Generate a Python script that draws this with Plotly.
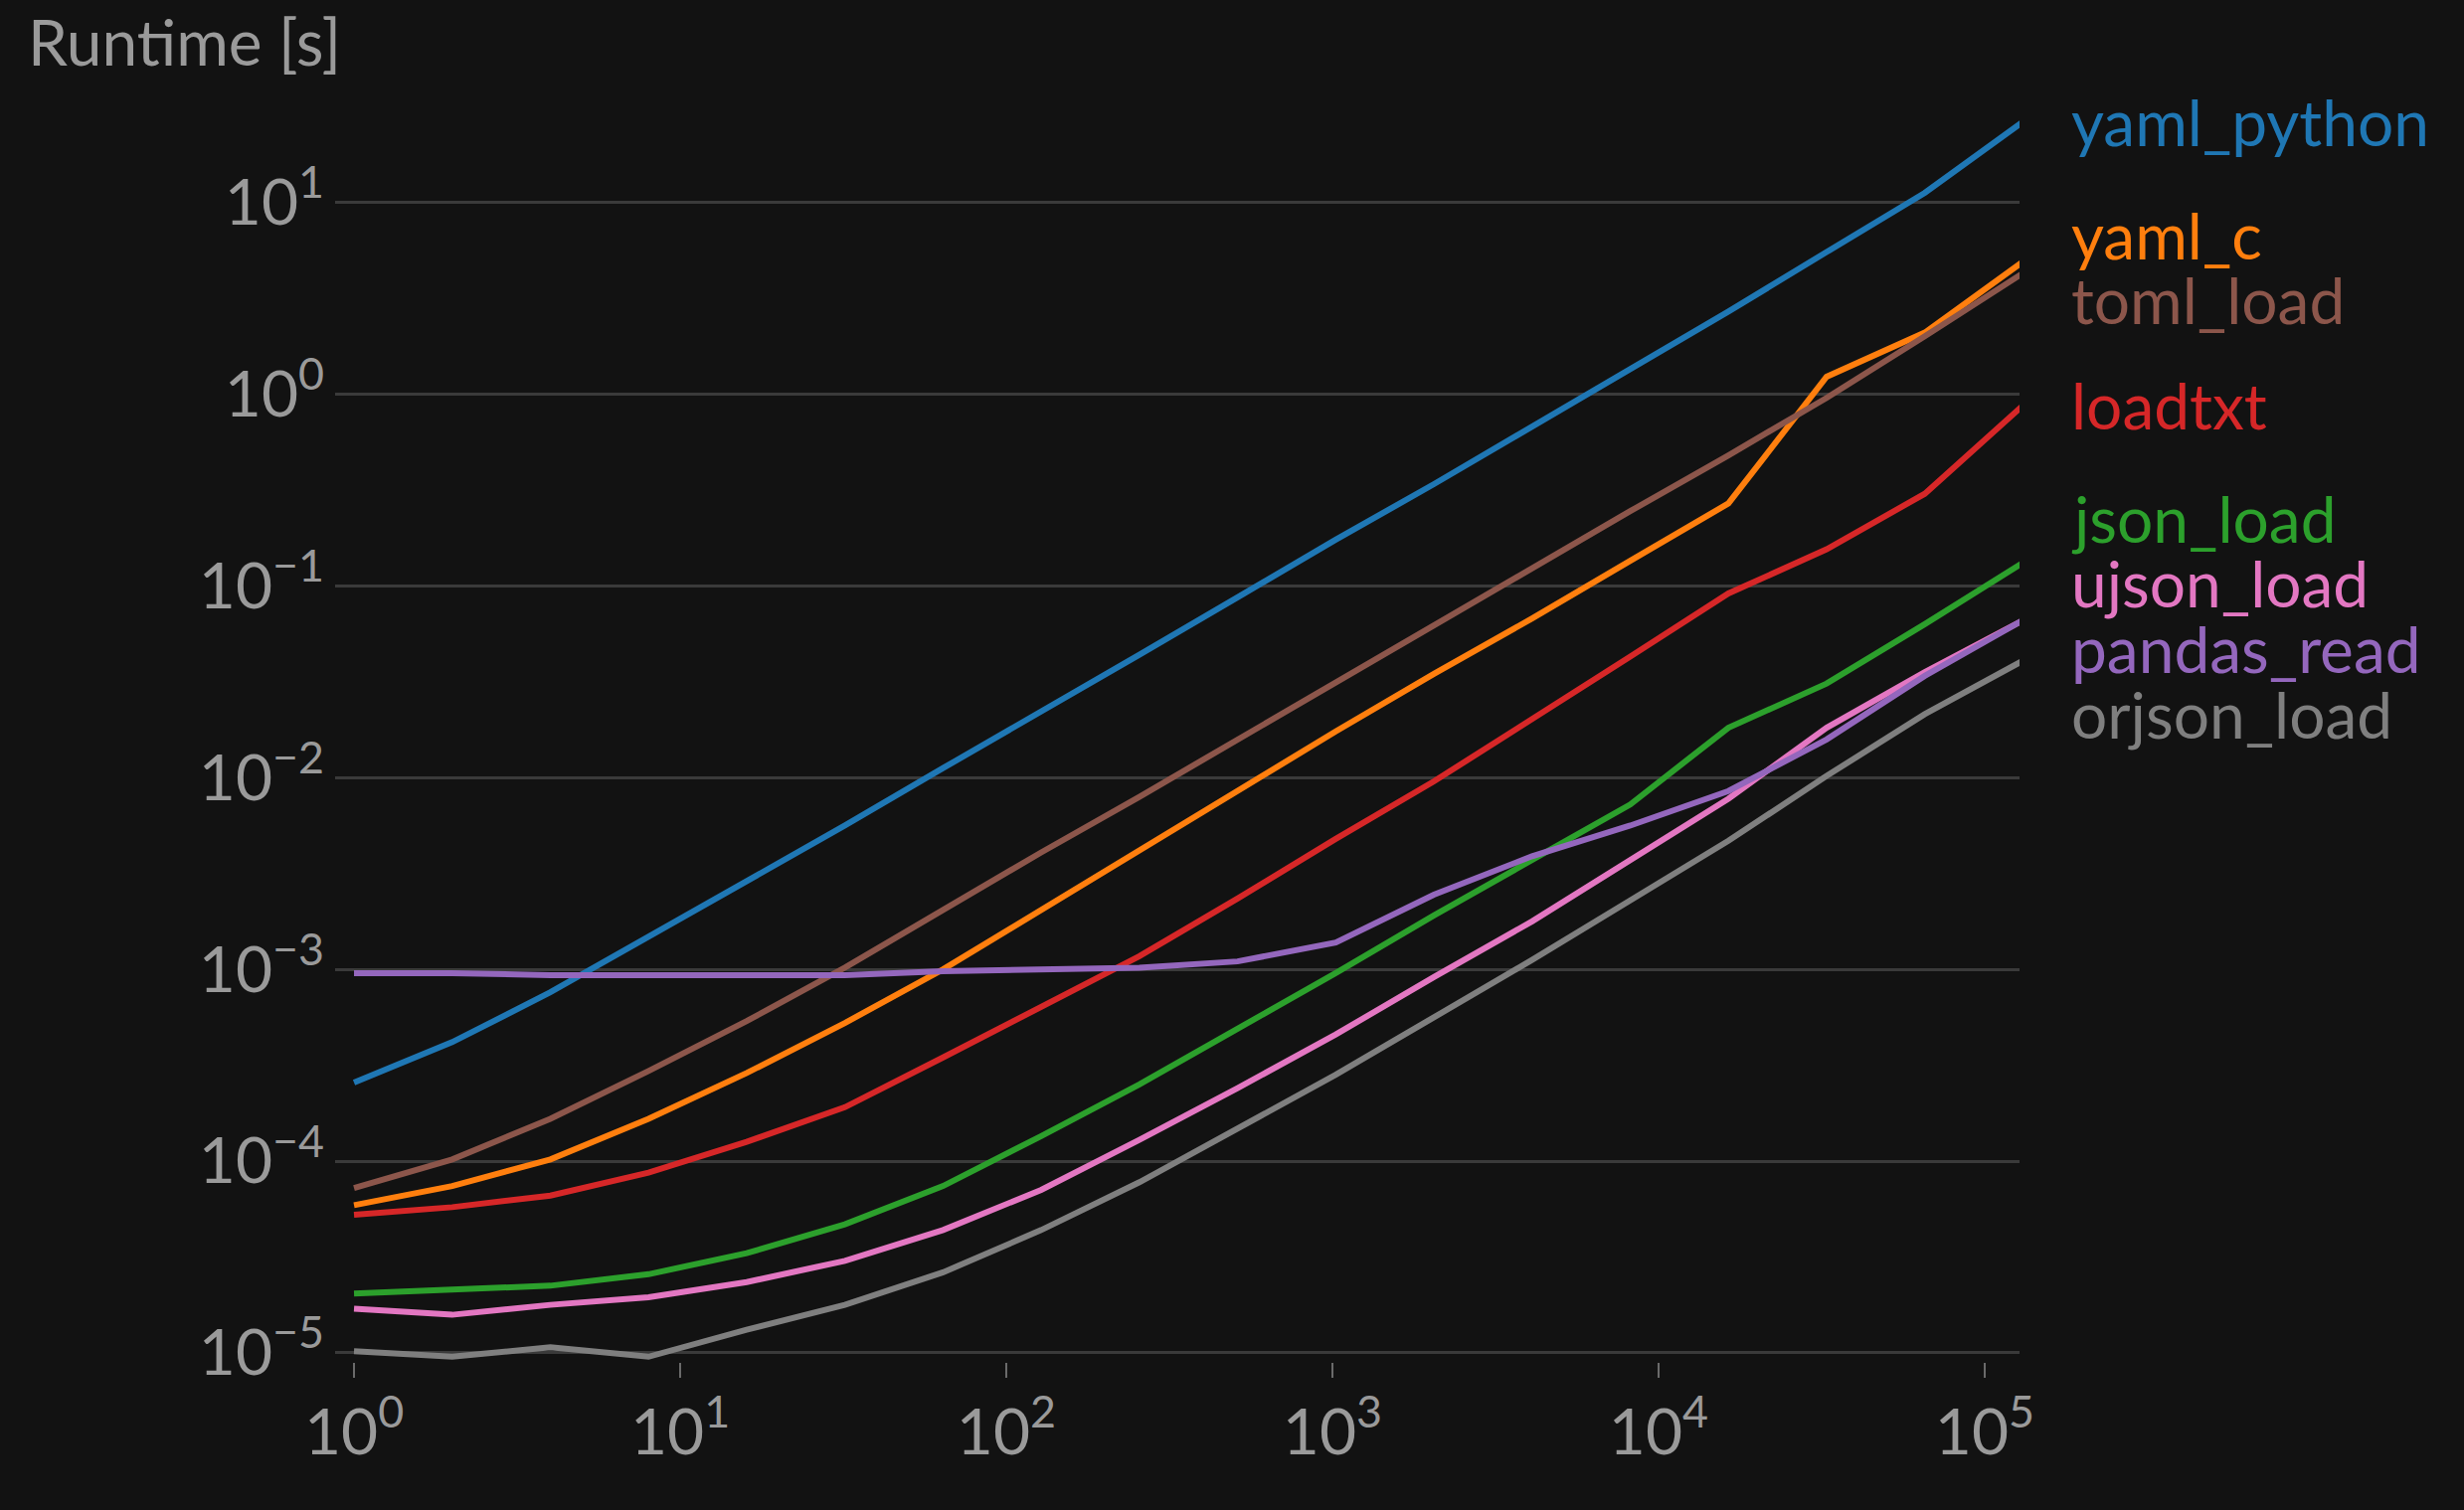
import math
import plotly.graph_objects as go

# ---------------- data ----------------
sizes = [1, 2, 4, 8, 16, 32, 64, 128, 256, 512, 1024, 2048, 4096, 8192,
         16384, 32768, 65536, 131072]

yaml_python = [2.57e-4, 4.17e-4, 7.59e-4, 1.48e-3, 2.88e-3, 5.62e-3, 1.12e-2, 2.19e-2,
               4.37e-2, 8.71e-2, 0.174, 0.339, 0.676, 1.35, 2.69, 5.50, 11.2, 26.3]
yaml_c = [5.89e-5, 7.41e-5, 1.02e-4, 1.66e-4, 2.88e-4, 5.25e-4, 1.0e-3, 2.04e-3,
          4.17e-3, 8.51e-3, 1.74e-2, 3.47e-2, 6.76e-2, 0.135, 0.269, 1.23, 2.09, 4.90]
toml_load = [7.24e-5, 1.02e-4, 1.66e-4, 2.95e-4, 5.37e-4, 1.02e-3, 2.04e-3, 4.07e-3,
             7.94e-3, 1.58e-2, 3.16e-2, 6.17e-2, 0.123, 0.245, 0.479, 0.955, 2.0, 4.27]
loadtxt = [5.25e-5, 5.75e-5, 6.61e-5, 8.71e-5, 1.26e-4, 1.91e-4, 3.47e-4, 6.31e-4,
           1.17e-3, 2.34e-3, 4.79e-3, 9.55e-3, 2.0e-2, 4.27e-2, 9.12e-2, 0.155, 0.302, 0.871]
json_load = [2.04e-5, 2.14e-5, 2.24e-5, 2.57e-5, 3.31e-5, 4.68e-5, 7.41e-5, 1.35e-4,
             2.51e-4, 4.90e-4, 9.55e-4, 1.91e-3, 3.72e-3, 7.24e-3, 1.82e-2, 3.09e-2, 6.31e-2, 0.132]
ujson_load = [1.70e-5, 1.58e-5, 1.78e-5, 1.95e-5, 2.34e-5, 3.02e-5, 4.37e-5, 7.08e-5,
              1.29e-4, 2.40e-4, 4.57e-4, 9.12e-4, 1.78e-3, 3.72e-3, 7.76e-3, 1.82e-2, 3.55e-2, 6.61e-2]
pandas_read = [9.55e-4, 9.55e-4, 9.33e-4, 9.33e-4, 9.33e-4, 9.33e-4, 9.77e-4, 1.0e-3,
               1.02e-3, 1.10e-3, 1.38e-3, 2.45e-3, 3.89e-3, 5.62e-3, 8.51e-3, 1.58e-2, 3.39e-2, 6.61e-2]
orjson_load = [1.02e-5, 9.55e-6, 1.07e-5, 9.55e-6, 1.32e-5, 1.78e-5, 2.63e-5, 4.37e-5,
               7.76e-5, 1.48e-4, 2.82e-4, 5.62e-4, 1.12e-3, 2.29e-3, 4.68e-3, 1.02e-2, 2.14e-2, 4.07e-2]

series_names = ["yaml_python", "yaml_c", "toml_load", "loadtxt",
                "json_load", "ujson_load", "pandas_read", "orjson_load"]
series_values = [yaml_python, yaml_c, toml_load, loadtxt,
                 json_load, ujson_load, pandas_read, orjson_load]
series_colors = ["#1f77b4", "#ff7f0e", "#8c564b", "#d62728",
                 "#2ca02c", "#e377c2", "#9467bd", "#7f7f7f"]

x_tickvals = [1, 10, 100, 1000, 10000, 100000]
x_ticktext = ["10<sup>0</sup>", "10<sup>1</sup>", "10<sup>2</sup>",
              "10<sup>3</sup>", "10<sup>4</sup>", "10<sup>5</sup>"]
y_tickvals = [1e-5, 1e-4, 1e-3, 1e-2, 1e-1, 1, 10]
y_ticktext = ["10<sup>\u22125</sup>", "10<sup>\u22124</sup>", "10<sup>\u22123</sup>",
              "10<sup>\u22122</sup>", "10<sup>\u22121</sup>", "10<sup>0</sup>", "10<sup>1</sup>"]

# ---------------- style ----------------
BG = "#121212"
TXT = "#9a9a9a"
FONT = "Lato"
FS = 64

fig = go.Figure()
for name, vals, col in zip(series_names, series_values, series_colors):
    fig.add_trace(go.Scatter(x=sizes, y=vals, mode="lines", name=name,
                             line=dict(color=col, width=6), showlegend=False))

# ---- label placement at line ends (cluster de-overlap) ----
ends = [math.log10(v[-1]) for v in series_values]
order = sorted(range(len(ends)), key=lambda i: -ends[i])
gap = 0.34
clusters = [[i] for i in order]


def positions(cl):
    m = sum(ends[i] for i in cl) / len(cl)
    n = len(cl)
    return [m + gap * ((n - 1) / 2 - j) for j in range(n)]


changed = True
while changed:
    changed = False
    for c in range(len(clusters) - 1):
        low = positions(clusters[c])[-1]
        high = positions(clusters[c + 1])[0]
        if low - high < gap:
            clusters[c] = clusters[c] + clusters[c + 1]
            del clusters[c + 1]
            changed = True
            break

label_y = {}
for cl in clusters:
    for i, p in zip(cl, positions(cl)):
        label_y[i] = p

for i, (name, col) in enumerate(zip(series_names, series_colors)):
    fig.add_annotation(x=1, xref="paper", xanchor="left", xshift=50,
                       y=label_y[i], yref="y", yanchor="middle",
                       text=name, showarrow=False,
                       font=dict(family=FONT, size=FS, color=col))

fig.add_annotation(x=-0.1835, xref="paper", xanchor="left",
                   y=1.052, yref="paper", yanchor="middle",
                   text="Runtime [s]", showarrow=False,
                   font=dict(family=FONT, size=FS, color=TXT))

fig.update_layout(
    width=2478, height=1519,
    paper_bgcolor=BG, plot_bgcolor=BG,
    margin=dict(l=337, r=447, t=107, b=149, pad=0),
    font=dict(family=FONT, size=FS, color=TXT),
    xaxis=dict(type="log", range=[-0.058, 5.107],
               tickvals=x_tickvals, ticktext=x_ticktext,
               ticks="outside", ticklen=15, tickwidth=2, tickcolor="#6a6a6a",
               ticklabelstandoff=0,
               showgrid=False, zeroline=False, showline=False,
               tickfont=dict(family=FONT, size=FS, color=TXT)),
    yaxis=dict(type="log", range=[-5.047, 1.5],
               tickvals=y_tickvals, ticktext=y_ticktext,
               ticks="", showgrid=True, gridcolor="#3a3a3a", gridwidth=3,
               ticklabelstandoff=10,
               zeroline=False, showline=False,
               tickfont=dict(family=FONT, size=FS, color=TXT)),
)

fig.write_html("out.html")
